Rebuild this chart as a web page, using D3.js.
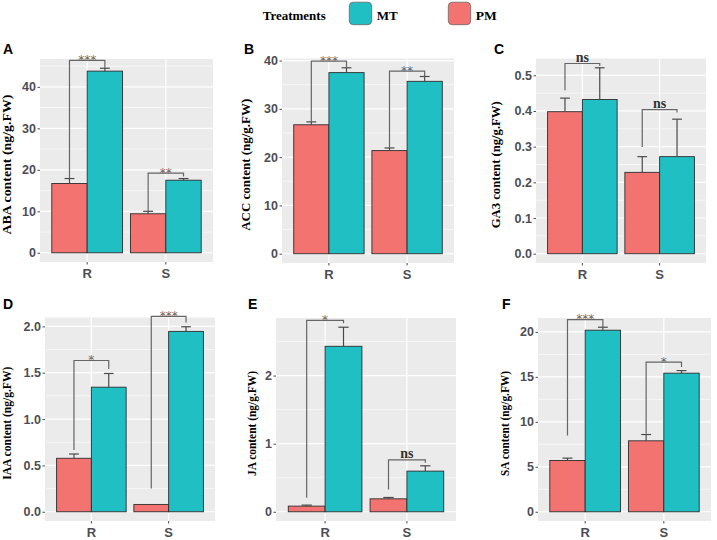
<!DOCTYPE html>
<html lang="en">
<head>
<meta charset="UTF-8">
<title>Hormone content under MT and PM treatments</title>
<script src="https://d3js.org/d3.v7.min.js"></script>
<style>
  body { margin: 0; background: #fff; }
  svg { display: block; }
  .tick text { font-family: "Liberation Sans", Arial, sans-serif; font-weight: bold; fill: #4d4d55; }
  .tick line { stroke: #4d4d4d; }
</style>
</head>
<body>
<svg width="717" height="540"></svg>
<script>
// values
const hormones = ["ABA", "ACC", "GA3", "IAA", "JA", "SA"];
const panelLetters = ["A", "B", "C", "D", "E", "F"];
const genotypes = ["R", "S"];
const treatments = ["PM", "MT"];
const legendOrder = ["MT", "PM"];

const pmMean = [[16.7, 9.4], [26.7, 21.35], [0.398, 0.228], [0.577, 0.079], [0.083, 0.19], [5.70, 7.89]];
const pmErr  = [[1.2, 0.6], [0.6, 0.55], [0.038, 0.044], [0.046, 0], [0.015, 0.02], [0.26, 0.70]];
const mtMean = [[43.8, 17.5], [37.5, 35.7], [0.432, 0.272], [1.344, 1.946], [2.43, 0.597], [20.19, 15.41]];
const mtErr  = [[0.7, 0.4], [1.0, 1.0], [0.089, 0.105], [0.148, 0.05], [0.28, 0.078], [0.33, 0.29]];

const yTicks = [[0, 10, 20, 30, 40], [0, 10, 20, 30, 40], [0, 0.1, 0.2, 0.3, 0.4, 0.5],
                [0, 0.5, 1, 1.5, 2], [0, 1, 2], [0, 5, 10, 15, 20]];
const tickFormats = ["d", "d", ".1f", ".1f", "d", "d"];

// significance brackets: label, top, end of left leg, end of right leg
const signif = [["***", "**"], ["***", "**"], ["ns", "ns"], ["*", "***"], ["*", "ns"], ["***", "*"]];
const bracketTop = [[46.4, 19.2], [39.9, 37.8], [0.533, 0.404], [1.632, 2.108], [2.81, 0.763], [21.37, 16.63]];
const bracketLeft = [[17.9, 10.0], [27.3, 21.9], [0.458, 0.299], [0.667, 0.252], [0.205, 0.328], [8.48, 8.67]];
const bracketRight = [[44.5, 18.4], [38.5, 36.7], [0.526, 0.396], [1.539, 2.043], [2.77, 0.719], [20.52, 16.1]];

// panel placement (pixels)
const layout = [
  {x0: 40,  x1: 213, y0: 59,    y1: 262, lx: 3,   ly: 54,  tx: 10.5,  tl: 140},
  {x0: 282, x1: 454, y0: 58.5,  y1: 263, lx: 244, ly: 53.5, tx: 249.5, tl: 132},
  {x0: 536, x1: 706, y0: 58.5,  y1: 263, lx: 494, ly: 54,  tx: 499.5, tl: 127},
  {x0: 45,  x1: 215, y0: 317.5, y1: 521, lx: 3,   ly: 309, tx: 10.5,  tl: 113},
  {x0: 276, x1: 456, y0: 318,   y1: 521, lx: 248, ly: 309, tx: 255.5, tl: 105},
  {x0: 538, x1: 711, y0: 318,   y1: 521, lx: 502, ly: 309, tx: 508.5, tl: 105}
];

const colors = {PM: "#F37370", MT: "#20BFC3"};
const serif = "'Liberation Serif', 'Times New Roman', serif";
const sans = "'Liberation Sans', Arial, sans-serif";

const svg = d3.select("svg");

// legend
const legend = svg.append("g");
legend.append("text")
    .attr("x", 262.7).attr("y", 20)
    .attr("font-family", serif).attr("font-weight", "bold").attr("font-size", 13)
    .attr("textLength", 63).attr("lengthAdjust", "spacingAndGlyphs")
    .text("Treatments");
const legendX = {MT: 349.3, PM: 448.3};
legendOrder.forEach(t => {
    legend.append("rect")
        .attr("x", legendX[t]).attr("y", 2.2).attr("width", 22.4).attr("height", 22.5)
        .attr("rx", 4).attr("fill", colors[t]).attr("stroke", "#666").attr("stroke-width", 0.8);
    legend.append("text")
        .attr("x", legendX[t] + 27.5).attr("y", 20)
        .attr("font-family", serif).attr("font-weight", "bold").attr("font-size", 13)
        .attr("textLength", 21).attr("lengthAdjust", "spacingAndGlyphs")
        .text(t);
});

hormones.forEach((h, i) => {
    const L = layout[i];
    const g = svg.append("g");

    const maxVal = d3.max(genotypes.flatMap((gt, j) => [pmMean[i][j] + pmErr[i][j], mtMean[i][j] + mtErr[i][j]]));
    const pad = maxVal * 0.05;
    const y = d3.scaleLinear().domain([-pad, maxVal + pad]).range([L.y1, L.y0]);
    const x = d3.scaleBand().domain(genotypes).range([L.x0, L.x1]).paddingInner(0.1).paddingOuter(0.15);
    const xs = d3.scaleBand().domain(treatments).range([0, x.bandwidth()]);

    // panel background + grid
    g.append("rect")
        .attr("x", L.x0).attr("y", L.y0)
        .attr("width", L.x1 - L.x0).attr("height", L.y1 - L.y0)
        .attr("fill", "#ebebeb");

    const ticks = yTicks[i];
    const step = ticks[1] - ticks[0];
    const minor = d3.range(ticks[0] - step / 2, maxVal + pad, step).filter(v => v > -pad);
    g.append("g").selectAll("line").data(minor).join("line")
        .attr("x1", L.x0).attr("x2", L.x1)
        .attr("y1", d => y(d)).attr("y2", d => y(d))
        .attr("stroke", "#fff").attr("stroke-width", 0.6);
    g.append("g").selectAll("line").data(ticks).join("line")
        .attr("x1", L.x0).attr("x2", L.x1)
        .attr("y1", d => y(d)).attr("y2", d => y(d))
        .attr("stroke", "#fff").attr("stroke-width", 1.2);
    g.append("g").selectAll("line").data(genotypes).join("line")
        .attr("x1", d => x(d) + x.bandwidth() / 2).attr("x2", d => x(d) + x.bandwidth() / 2)
        .attr("y1", L.y0).attr("y2", L.y1)
        .attr("stroke", "#fff").attr("stroke-width", 1.2);

    // bars
    const rows = genotypes.flatMap((gt, j) => [
        {gt, t: "PM", v: pmMean[i][j], e: pmErr[i][j]},
        {gt, t: "MT", v: mtMean[i][j], e: mtErr[i][j]}
    ]);
    g.append("g").selectAll("rect").data(rows).join("rect")
        .attr("x", d => x(d.gt) + xs(d.t))
        .attr("y", d => y(d.v))
        .attr("width", xs.bandwidth())
        .attr("height", d => y(0) - y(d.v))
        .attr("fill", d => colors[d.t])
        .attr("stroke", "#2e2e2e").attr("stroke-width", 0.9);

    // error bars (upper only)
    const cap = xs.bandwidth() * 0.14;
    const eb = g.append("g").attr("stroke", "#4a4a4a").attr("stroke-width", 1.2);
    rows.filter(d => d.e > 0).forEach(d => {
        const cx = x(d.gt) + xs(d.t) + xs.bandwidth() / 2;
        eb.append("line").attr("x1", cx).attr("x2", cx).attr("y1", y(d.v)).attr("y2", y(d.v + d.e));
        eb.append("line").attr("x1", cx - cap).attr("x2", cx + cap).attr("y1", y(d.v + d.e)).attr("y2", y(d.v + d.e));
    });

    // significance brackets
    genotypes.forEach((gt, j) => {
        const xl = x(gt) + xs("PM") + xs.bandwidth() / 2;
        const xr = x(gt) + xs("MT") + xs.bandwidth() / 2;
        const yt = y(bracketTop[i][j]);
        g.append("path")
            .attr("d", `M${xl},${y(bracketLeft[i][j])}V${yt}H${xr}V${y(bracketRight[i][j])}`)
            .attr("fill", "none").attr("stroke", "#666").attr("stroke-width", 1.2);
        const lab = signif[i][j];
        const txt = g.append("text")
            .attr("x", (xl + xr) / 2).attr("text-anchor", "middle")
            .text(lab);
        if (lab === "ns") {
            txt.attr("y", yt - 2).attr("font-family", serif).attr("font-weight", "bold")
                .attr("font-size", 14).attr("fill", "#333");
        } else {
            txt.attr("y", yt + 3.5).attr("font-family", "'DejaVu Sans', sans-serif")
                .attr("font-size", 12).attr("fill", "#666");
        }
    });

    // axes
    g.append("g")
        .attr("transform", `translate(${L.x0},0)`)
        .call(d3.axisLeft(y).tickValues(ticks).tickSize(2.5).tickPadding(1.5).tickFormat(d3.format(tickFormats[i])))
        .attr("font-size", 12.5)
        .call(a => a.select(".domain").remove());
    g.append("g")
        .attr("transform", `translate(0,${L.y1})`)
        .call(d3.axisBottom(x).tickSize(2.5).tickPadding(4))
        .attr("font-size", 13)
        .call(a => a.select(".domain").remove());

    // y-axis title
    g.append("text")
        .attr("transform", "rotate(-90)")
        .attr("x", -((L.y0 + L.y1) / 2 + 4)).attr("y", L.tx)
        .attr("text-anchor", "middle")
        .attr("font-family", serif).attr("font-weight", "bold").attr("font-size", 12.5)
        .attr("textLength", L.tl).attr("lengthAdjust", "spacingAndGlyphs")
        .text(`${h} content (ng/g.FW)`);

    // panel letter
    g.append("text")
        .attr("x", L.lx).attr("y", L.ly)
        .attr("font-family", sans).attr("font-weight", "bold").attr("font-size", 14)
        .text(panelLetters[i]);
});
</script>
</body>
</html>
